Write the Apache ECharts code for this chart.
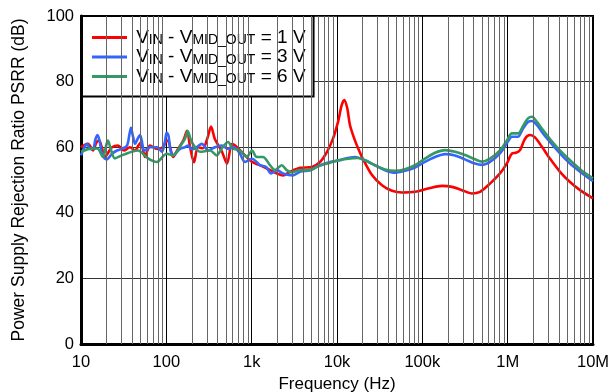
<!DOCTYPE html>
<html>
<head>
<meta charset="utf-8">
<script src="https://cdn.jsdelivr.net/npm/echarts@6/dist/echarts.min.js"></script>
<style>
  html, body { margin: 0; padding: 0; background: #fff; }
  #chart { width: 611px; height: 392px; }
</style>
</head>
<body>
<div id="chart"></div>
<script>
// frequency (Hz), PSRR (dB)
const psrr1V = [
  [10, 60], [12.1, 61], [13.8, 59], [15.2, 61.5], [16.3, 62], [17.5, 60], [19.1, 57], [21, 58.5],
  [23.1, 60], [27.1, 60.5], [31.9, 59], [37.5, 60], [43, 59], [47, 60.5], [50.5, 61.5], [53, 59.5],
  [56.2, 57], [60, 59], [64.4, 60.5], [77.8, 59.5], [91.4, 60], [98, 61.5], [105, 62], [112, 59.5],
  [120, 57], [137, 59.5], [158, 62], [175, 65], [190, 60], [211, 55.4], [235, 60], [269, 59.7],
  [305, 63], [334, 66.3], [370, 62.5], [449, 58.6], [514, 55], [589, 61], [673, 60], [836, 57.5],
  [1009, 55.5], [1253, 54.5], [1514, 53.5], [1982, 52], [2328, 51.4], [2812, 52.5],
  [3684, 53.7], [5093, 54], [6324, 55.5], [7638, 58.6], [8975, 62.6], [10280, 67.7],
  [11350, 72.8], [12180, 74.4], [13210, 71.8], [14200, 66.7], [16260, 62], [18120, 59],
  [19630, 57], [25710, 51.5], [33650, 48.4], [44150, 46.7], [57800, 46.2], [82090, 46.4],
  [116700, 47.4], [170200, 48.2], [222800, 47.9], [291700, 46.9], [381900, 45.9],
  [474200, 46.4], [620800, 48.9], [812800, 52], [975000, 55], [1124000, 58.1],
  [1253000, 58.3], [1396000, 59.1], [1597000, 62.6], [1828000, 63.7], [2089000, 63],
  [2523000, 60.1], [3133000, 56.5], [4102000, 52.5], [5379000, 49.4], [7047000, 46.9],
  [10000000, 44.4]
];
const psrr3V = [
  [10, 57.5], [11, 60], [11.8, 61], [12.8, 59.5], [13.8, 59.5], [14.8, 62.5], [15.6, 63.7],
  [16.5, 62], [17.6, 58], [19, 56.5], [20.2, 56.3], [21.5, 57], [23.1, 58], [26.4, 59],
  [30, 59.5], [34.6, 60.5], [37, 64], [38.5, 65.9], [40.5, 63.5], [43, 61], [46, 62.5],
  [49.1, 63.7], [51.5, 62], [54.7, 59], [60, 59.5], [64.4, 60], [77.8, 60], [88.9, 58.6],
  [96, 61.5], [101, 64.5], [106, 63.5], [112, 59], [120, 57.5], [132, 58.5], [145, 59.5],
  [165, 60], [180, 60.5], [195, 59.5], [211, 59.5], [240, 60.5], [262, 61], [285, 60],
  [308, 59], [372, 60], [449, 60.5], [528, 59.5], [621, 60], [730, 58],
  [836, 55.5], [1009, 56.5], [1253, 54.5], [1472, 54], [1686, 52], [1982, 53], [2328, 52],
  [3050, 51.4], [3684, 52.5], [4826, 53], [6324, 54.5], [8279, 55.5], [10840, 56],
  [12180, 56.5], [16260, 57], [21290, 56], [27870, 54.5], [36550, 53], [47860, 52.2],
  [62660, 52.8], [82090, 53.8], [107400, 55.5], [140900, 57], [184500, 57.9], [241500, 57.5],
  [316200, 56.3], [414000, 55], [500000, 54.6], [620800, 55.5], [812800, 58.1],
  [975000, 61.1], [1124000, 63.2], [1253000, 63.2], [1321000, 63.2], [1514000, 65.7],
  [1731000, 67.7], [1928000, 68], [2207000, 66.7], [2594000, 64.2], [3133000, 61.6],
  [4102000, 58.1], [5379000, 55], [7047000, 52.5], [10000000, 49.6]
];
const psrr6V = [
  [10, 58.6], [12.5, 59.5], [15.5, 59.6], [18.1, 57], [19.5, 60], [20.7, 62], [22, 60],
  [25, 56.6], [30, 57.5], [39.3, 58.6], [46.5, 59], [61, 56.6], [77.1, 55.5], [101, 58],
  [120, 57.5], [151, 61], [165, 62.5], [178, 64.9], [192, 62.5], [205, 61], [248, 58.6],
  [325, 59], [389, 57.5], [446, 59.6], [528, 61.6], [604, 59.6], [730, 59], [875, 57],
  [1009, 59], [1146, 57], [1358, 57], [1640, 54.5], [1877, 53], [2249, 54.5], [2571, 53],
  [2950, 52.3], [3684, 53], [4826, 53], [5834, 54], [7638, 55], [10280, 56], [13460, 56.5],
  [17620, 56.7], [21290, 56], [27870, 54.5], [36550, 53.2], [47860, 52.8], [62660, 53.3],
  [82090, 54.5], [107400, 56.5], [140900, 58.3], [184500, 59.1], [241500, 58.6], [316200, 57.6],
  [414000, 56.3], [500000, 55.6], [620800, 56.5], [812800, 59], [975000, 62], [1124000, 64.2],
  [1321000, 64.2], [1514000, 66.5], [1731000, 68.8], [1928000, 69.3], [2207000, 67.7],
  [2594000, 65.2], [3133000, 62.5], [4102000, 59], [5379000, 56], [7047000, 53.3],
  [10000000, 50.5]
];

const seriesNames = ['1 V', '3 V', '6 V'];
const seriesColors = ['#ff0000', '#3366ff', '#339966'];
const xTickLabels = ['10', '100', '1k', '10k', '100k', '1M', '10M'];

// minor log grid lines at 2..9 x each decade
const minorLines = [];
for (let d = 10; d < 1e7; d *= 10) {
  for (let m = 2; m <= 9; m++) minorLines.push({ xAxis: m * d });
}

const chart = echarts.init(document.getElementById('chart'));

const makeSeries = (name, data, color) => ({
  name: name,
  type: 'line',
  data: data,
  smooth: 0.3,
  symbol: 'none',
  lineStyle: { color: color, width: 2.6 },
  itemStyle: { color: color },
  z: 3
});

chart.setOption({
  animation: false,
  backgroundColor: '#fff',
  textStyle: { fontFamily: 'Liberation Sans, Arial, sans-serif' },
  grid: {
    left: 81, right: 18, top: 16, bottom: 48,
    outerBoundsMode: 'none',
    containLabel: false,
    show: true, borderColor: '#000', borderWidth: 2
  },
  legend: {
    data: seriesNames,
    orient: 'vertical',
    left: 82, top: 16,
    padding: [12, 8, 10, 10],
    itemGap: 0,
    itemWidth: 35,
    itemHeight: 3,
    icon: 'rect',
    backgroundColor: '#fff',
    borderColor: '#000',
    borderWidth: 2,
    borderRadius: 0,
    formatter: (name) => '{g| }{n|V}{s|IN}{n| - V}{s|MID_OUT}{n| = ' + name + '}',
    textStyle: {
      color: '#000',
      rich: {
        g: { fontSize: 15, lineHeight: 20 },
        n: { fontSize: 19, lineHeight: 20, color: '#000', fontFamily: 'Liberation Sans' },
        s: { fontSize: 14, lineHeight: 8, verticalAlign: 'bottom', color: '#000', fontFamily: 'Liberation Sans' }
      }
    }
  },
  xAxis: {
    type: 'log',
    logBase: 10,
    min: 10,
    max: 1e7,
    name: 'Frequency (Hz)',
    nameLocation: 'middle',
    nameGap: 26,
    nameTextStyle: { fontSize: 17, color: '#000' },
    axisLine: { show: true, onZero: false, lineStyle: { color: '#000', width: 3 } },
    axisTick: { show: false },
    axisLabel: {
      fontSize: 16.5, color: '#000', margin: 10,
      formatter: (v) => xTickLabels[Math.round(Math.log10(v)) - 1]
    },
    splitLine: { show: true, lineStyle: { color: '#000', width: 1 } }
  },
  yAxis: {
    type: 'value',
    min: 0,
    max: 100,
    interval: 20,
    name: 'Power Supply Rejection Ratio PSRR (dB)',
    nameLocation: 'middle',
    nameGap: 53,
    nameTextStyle: { fontSize: 17.5, color: '#000' },
    axisLine: { show: true, lineStyle: { color: '#000', width: 3 } },
    axisTick: { show: false },
    axisLabel: { fontSize: 16.5, color: '#000', margin: 7 },
    splitLine: { show: true, lineStyle: { color: '#333', width: 1 } }
  },
  series: [
    {
      name: 'grid',
      type: 'line',
      data: [],
      silent: true,
      z: 1,
      markLine: {
        silent: true,
        symbol: ['none', 'none'],
        label: { show: false },
        lineStyle: { color: '#666', width: 1, type: 'solid' },
        emphasis: { disabled: true },
        data: minorLines
      }
    },
    makeSeries(seriesNames[0], psrr1V, seriesColors[0]),
    makeSeries(seriesNames[1], psrr3V, seriesColors[1]),
    makeSeries(seriesNames[2], psrr6V, seriesColors[2])
  ]
});
</script>
</body>
</html>
